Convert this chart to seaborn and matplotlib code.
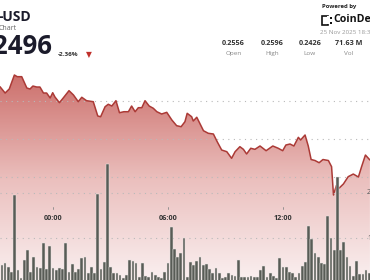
import numpy as np
import matplotlib
matplotlib.use("Agg")
import matplotlib.pyplot as plt
import seaborn as sns
from matplotlib.transforms import blended_transform_factory
from matplotlib.patches import Rectangle

# ---------------- data ----------------
# price line: minutes relative to 00:00 (negative = previous day)
price_t = [-166, -150, -137, -121, -112, -98, -82, -72, -63, -51, -41, -30, -20, -9, -1,
           6, 20, 32, 50, 64, 79, 90, 105, 126, 140, 149, 163, 173, 184, 197,
           208, 222, 236, 246, 257, 267, 278, 288, 301, 314, 325, 340, 356, 372, 387,
           401, 413, 420, 434, 439, 450, 471, 486, 502, 514, 528, 544, 559, 570, 585,
           596, 606, 619, 632, 648, 667, 688, 705, 719, 729, 742, 754, 768, 775, 789,
           799, 808, 820, 833, 845, 862, 872, 878, 887, 896, 909, 924, 940, 956, 966,
           978, 992]
price = [0.25688, 0.25605, 0.25658, 0.25842, 0.25820, 0.25820, 0.25671, 0.25658, 0.25697, 0.25684,
         0.25684, 0.25605, 0.25605, 0.25540, 0.25609, 0.25553, 0.25478, 0.25540, 0.25636, 0.25579,
         0.25491, 0.25549, 0.25504, 0.25491, 0.25303, 0.25293, 0.25425, 0.25457, 0.25434, 0.25504,
         0.25346, 0.25359, 0.25359, 0.25434, 0.25359, 0.25412, 0.25412, 0.25504, 0.25434, 0.25404,
         0.25359, 0.25329, 0.25351, 0.25250, 0.25175, 0.25162, 0.25228, 0.25338, 0.25293, 0.25237,
         0.25286, 0.25109, 0.25075, 0.25066, 0.24964, 0.24855, 0.24833, 0.24746, 0.24833, 0.24899,
         0.24864, 0.24803, 0.24878, 0.24864, 0.24908, 0.24846, 0.24908, 0.24878, 0.24846, 0.24921,
         0.24934, 0.24908, 0.25022, 0.24987, 0.25053, 0.24908, 0.24730, 0.24717, 0.24688, 0.24730,
         0.24717, 0.24636, 0.24263, 0.24388, 0.24355, 0.24408, 0.24504, 0.24539, 0.24500, 0.24636,
         0.24789, 0.24724]

# volume bars (10-minute bars), millions
bar_t = list(range(-160, 1000, 10))
vol = [0.40, 0.44, 0.36, 0.24, 1.96, 0.29, 0.11, 0.51, 0.73, 0.24,
       0.58, 0.36, 0.33, 0.89, 0.31, 0.82, 0.33, 0.29, 0.33, 0.31,
       0.89, 0.24, 0.42, 0.24, 0.31, 0.56, 0.58, 0.22, 0.36, 0.22,
       1.98, 0.31, 0.47, 2.64, 0.36, 0.22, 0.22, 0.18, 0.11, 0.18,
       0.51, 0.49, 0.44, 0.13, 0.44, 0.16, 0.13, 0.24, 0.18, 0.13,
       0.11, 0.24, 0.44, 1.24, 0.76, 0.58, 0.67, 1.00, 0.13, 0.47,
       0.40, 0.49, 0.58, 0.40, 0.42, 0.31, 0.22, 0.33, 0.22, 0.11,
       0.13, 0.22, 0.18, 0.16, 0.51, 0.13, 0.13, 0.13, 0.16, 0.13,
       0.13, 0.29, 0.38, 0.13, 0.22, 0.16, 0.11, 0.56, 0.36, 0.36,
       0.24, 0.22, 0.13, 0.22, 0.38, 0.47, 1.27, 0.98, 0.67, 0.58,
       0.44, 0.42, 1.49, 1.00, 0.73, 2.36, 0.73, 0.91, 0.58, 0.38,
       0.16, 0.49, 0.20, 0.20, 0.29, 0.22]

tick_t = [0, 360, 720]
tick_labels = ["00:00", "06:00", "12:00"]
price_grid = [0.255, 0.250, 0.245]
vol_grid = [1, 2]
vol_grid_labels = ["1M", "2M"]

pair = "-USD"
subtitle = "Chart"
last_price = "0.2496"
change = "-2.36%"
powered = "Powered by"
brand = "CoinDesk"
timestamp = "25 Nov 2025 18:30"
stat_values = ["0.2556", "0.2596", "0.2426", "71.63 M"]
stat_labels = ["Open", "High", "Low", "Vol"]

# ---------------- layout ----------------
W, H = 370, 280
sns.set_style("white")
plt.rcParams['font.family'] = ['Open Sans', 'DejaVu Sans']

fig = plt.figure(figsize=(3.7, 2.8), dpi=100)
fig.patch.set_facecolor("white")


def fx(x):
    return x / W


def fy(y):
    return 1 - y / H


XL = (-166, 992.3)
# price axis: 0.250 at y=139px, 0.005 per 38px
ppx = 0.005 / 38
YL = (0.250 - (H - 139) * ppx, 0.250 + 139 * ppx)

ax = fig.add_axes([0, 0, 1, 1])
ax.set_facecolor("none")

# gradient under the price line
stops_y = [0, 70, 180, 280]
stops_c = np.array([[203, 108, 104], [203, 108, 104], [235, 192, 190], [250, 240, 240]]) / 255
rows = np.arange(H)
grad = np.zeros((H, 1, 4))
for c in range(3):
    grad[:, 0, c] = np.interp(rows, stops_y, stops_c[:, c])
grad[:, 0, 3] = 1
poly = ax.fill_between(price_t, price, YL[0], facecolor="none", edgecolor="none")
im = ax.imshow(grad, extent=[XL[0], XL[1], YL[0], YL[1]], origin="upper",
               aspect="auto", zorder=1, interpolation="bilinear")
im.set_clip_path(poly.get_paths()[0], transform=ax.transData)

for g in price_grid:
    ax.axhline(g, color="#b9b9b9", lw=0.8, ls=(0, (1, 4)), zorder=2)

sns.lineplot(x=price_t, y=price, ax=ax, color="#ab3a36", linewidth=1.1,
             estimator=None, sort=False, zorder=3)
ax.set_xlim(*XL)
ax.set_ylim(*YL)
ax.axis("off")

# volume axis: 0 at y=283px, 1M per 45px
ax2 = ax.twinx()
ax2.set_facecolor("none")
for g in vol_grid:
    ax2.axhline(g, color="#b9b9b9", lw=0.8, ls=(0, (1, 4)), zorder=1)
sns.barplot(x=bar_t, y=vol, ax=ax2, native_scale=True, color="#585c56",
            saturation=1, width=0.86, edgecolor="#e9e4e3", linewidth=0.35,
            errorbar=None, zorder=4)
ax2.set_xlim(*XL)
ax2.set_ylim((283 - H) / 45, 283 / 45)
ax2.axis("off")

trans = blended_transform_factory(ax2.transData, fig.transFigure)
for t, lab in zip(tick_t, tick_labels):
    ax2.text(t, fy(219), lab, transform=trans, ha="center", va="center",
             fontsize=5.2, color="#333333", fontweight="bold", zorder=6)
    ax2.plot([t, t], [fy(207), fy(209)], transform=trans, color="#888888",
             lw=0.6, zorder=6)

for g, lab in zip(vol_grid, vol_grid_labels):
    ax2.text(fx(367), g, lab, transform=blended_transform_factory(fig.transFigure, ax2.transData),
             ha="left", va="center", fontsize=5, color="#555555")

# ---------------- header ----------------
fig.text(fx(-1.5), fy(17), pair, ha="left", va="center", fontsize=10,
         fontweight="bold", color="#1b1b2b")
fig.text(fx(-1), fy(28.5), subtitle, ha="left", va="center", fontsize=5,
         color="#666666")
fig.text(fx(52), fy(47), last_price, ha="right", va="center", fontsize=18.5,
         fontweight="bold", color="#1b1b2b")
fig.text(fx(58), fy(54), change, ha="left", va="center", fontsize=4.6,
         fontweight="bold", color="#333333")
fig.text(fx(88.5), fy(54.5), "▼", ha="center", va="center", fontsize=5.5,
         color="#c0302b", family=["DejaVu Sans"])

fig.text(fx(321.5), fy(6.5), powered, ha="left", va="center", fontsize=4.3,
         fontweight="bold", color="#222222")
fig.add_artist(Rectangle((fx(321.5), fy(25)), 6.5 / W, 9.5 / H, fill=False,
                         lw=1.2, edgecolor="#111111", transform=fig.transFigure))
fig.add_artist(Rectangle((fx(326.5), fy(24)), 2 / W, 7.5 / H, fill=True,
                         lw=0, facecolor="white", transform=fig.transFigure))
for yy in (18, 22.5):
    fig.add_artist(Rectangle((fx(330), fy(yy + 1)), 1.6 / W, 1.6 / H, fill=True,
                             lw=0, facecolor="#111111", transform=fig.transFigure))
fig.text(fx(333), fy(20), brand, ha="left", va="center", fontsize=7.6,
         fontweight="bold", color="#111111")
fig.text(fx(320.5), fy(32.5), timestamp, ha="left", va="center", fontsize=4.5,
         color="#9a9a9a")

for cx, v, l in zip([233.3, 272, 310, 349], stat_values, stat_labels):
    fig.text(fx(cx), fy(43.7), v, ha="center", va="center", fontsize=5.2,
             fontweight="bold", color="#333333")
    fig.text(fx(cx), fy(53.5), l, ha="center", va="center", fontsize=4.6,
             color="#888888")

fig.savefig("out.png", dpi=100, facecolor="white")
